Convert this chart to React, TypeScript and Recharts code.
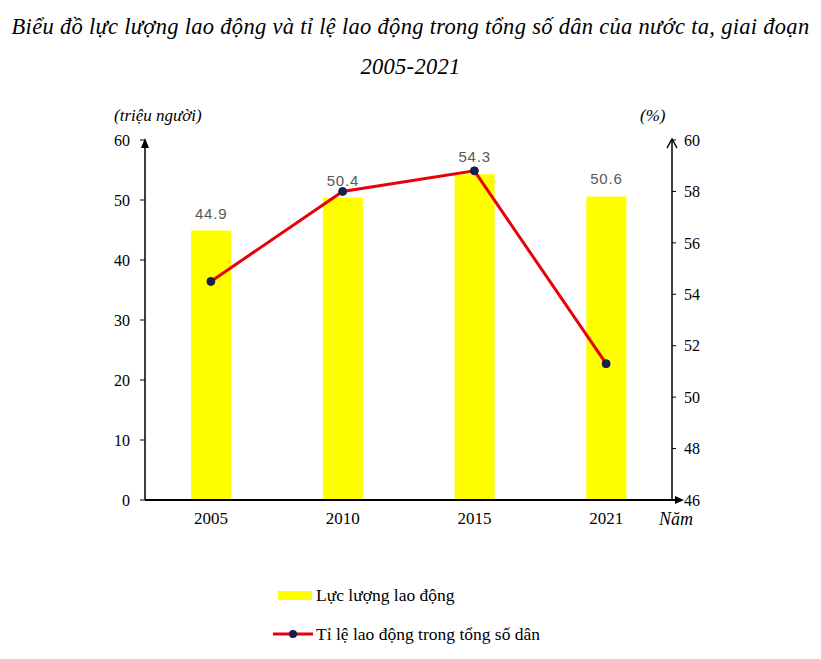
import React from 'react';
import { ComposedChart, Bar, Line, XAxis, YAxis, LabelList } from 'recharts';

const years = ['2005', '2010', '2015', '2021'];
const laborForce = [44.9, 50.4, 54.3, 50.6];
const laborRatio = [54.5, 58.0, 58.8, 51.3];
const leftTicks = [0, 10, 20, 30, 40, 50, 60];
const rightTicks = [46, 48, 50, 52, 54, 56, 58, 60];
const seriesNames = ['Lực lượng lao động', 'Tỉ lệ lao động trong tổng số dân'];

const data = years.map((year, i) => ({ year, force: laborForce[i], ratio: laborRatio[i] }));

const W = 821;
const H = 659;
const PLOT = { left: 145, right: 672, top: 140, bottom: 500 };
const AXIS_W = 45;
const XAXIS_H = 30;
const serif = '"Liberation Serif", "DejaVu Serif", serif';
const tickStyle = { fill: '#000', fontSize: 16, fontFamily: serif };

const App: React.FC = () => {
  return (
    <div style={{ position: 'absolute', left: 0, top: 0, width: W, height: H, background: '#fff', fontFamily: serif }}>
      <div style={{ position: 'absolute', left: 0, top: 7, width: W, textAlign: 'center', fontStyle: 'italic', fontSize: 22.5, lineHeight: '40px', letterSpacing: 0.3 }}>
        Biểu đồ lực lượng lao động và tỉ lệ lao động trong tổng số dân của nước ta, giai đoạn
        <br />
        2005-2021
      </div>

      <div style={{ position: 'absolute', left: 114, top: 106, fontStyle: 'italic', fontSize: 17 }}>(triệu người)</div>
      <div style={{ position: 'absolute', left: 640, top: 106, fontStyle: 'italic', fontSize: 17 }}>(%)</div>
      <div style={{ position: 'absolute', left: 659, top: 509, fontStyle: 'italic', fontSize: 18 }}>Năm</div>

      <ComposedChart
        width={W}
        height={H}
        data={data}
        barCategoryGap="35%"
        margin={{
          top: PLOT.top,
          left: PLOT.left - AXIS_W,
          right: W - PLOT.right - AXIS_W,
          bottom: H - PLOT.bottom - XAXIS_H,
        }}
      >
        <XAxis
          dataKey="year"
          height={XAXIS_H}
          axisLine={false}
          tickLine={false}
          tick={{ ...tickStyle, fontSize: 17 }}
          tickMargin={6}
        />
        <YAxis
          yAxisId="left"
          width={AXIS_W}
          domain={[0, 60]}
          ticks={leftTicks}
          axisLine={{ stroke: '#000', strokeWidth: 1.5 }}
          tickLine={{ stroke: '#000' }}
          tickSize={5}
          tick={tickStyle}
          tickMargin={10}
        />
        <YAxis
          yAxisId="right"
          orientation="right"
          width={AXIS_W}
          domain={[46, 60]}
          ticks={rightTicks}
          axisLine={{ stroke: '#000', strokeWidth: 1.5 }}
          tickLine={{ stroke: '#000' }}
          tickSize={4}
          tick={tickStyle}
          tickMargin={8}
        />
        <Bar yAxisId="left" dataKey="force" fill="#ffff00" isAnimationActive={false}>
          <LabelList
            dataKey="force"
            position="top"
            offset={12}
            fill="#595959"
            fontSize={15}
            letterSpacing={0.8}
            fontFamily='"Liberation Sans", Arial, sans-serif'
          />
        </Bar>
        <Line
          yAxisId="right"
          dataKey="ratio"
          stroke="#e8000b"
          strokeWidth={3}
          dot={{ r: 4, fill: '#1c1c4e', stroke: '#1c1c4e', strokeWidth: 1 }}
          isAnimationActive={false}
        />
      </ComposedChart>

      <svg width={W} height={H} style={{ position: 'absolute', left: 0, top: 0, pointerEvents: 'none' }}>
        <line x1={PLOT.left} y1={PLOT.bottom} x2={PLOT.right + 6} y2={PLOT.bottom} stroke="#000" strokeWidth={2} />
        <polygon points={`${PLOT.right + 12},${PLOT.bottom} ${PLOT.right + 3},${PLOT.bottom - 4} ${PLOT.right + 3},${PLOT.bottom + 4}`} fill="#000" />
        <polygon points={`${PLOT.left},${PLOT.top - 2} ${PLOT.left - 4},${PLOT.top + 8} ${PLOT.left + 4},${PLOT.top + 8}`} fill="#000" />
        <polyline points={`${PLOT.right - 5},${PLOT.top + 8} ${PLOT.right},${PLOT.top - 1} ${PLOT.right + 5},${PLOT.top + 8}`} fill="none" stroke="#000" strokeWidth={1.5} />
      </svg>

      <div style={{ position: 'absolute', left: 273, top: 583, fontSize: 17.5 }}>
        <div style={{ display: 'flex', alignItems: 'center', height: 24 }}>
          <span style={{ display: 'inline-block', width: 34, height: 9, background: '#ffff00', marginLeft: 5, marginRight: 4 }} />
          {seriesNames[0]}
        </div>
        <div style={{ display: 'flex', alignItems: 'center', height: 24, marginTop: 15 }}>
          <svg width={42} height={12} style={{ marginRight: 1 }}>
            <line x1={0} y1={6} x2={40} y2={6} stroke="#e8000b" strokeWidth={3} />
            <circle cx={20} cy={6} r={4} fill="#1c1c4e" />
          </svg>
          {seriesNames[1]}
        </div>
      </div>
    </div>
  );
};

export default App;
